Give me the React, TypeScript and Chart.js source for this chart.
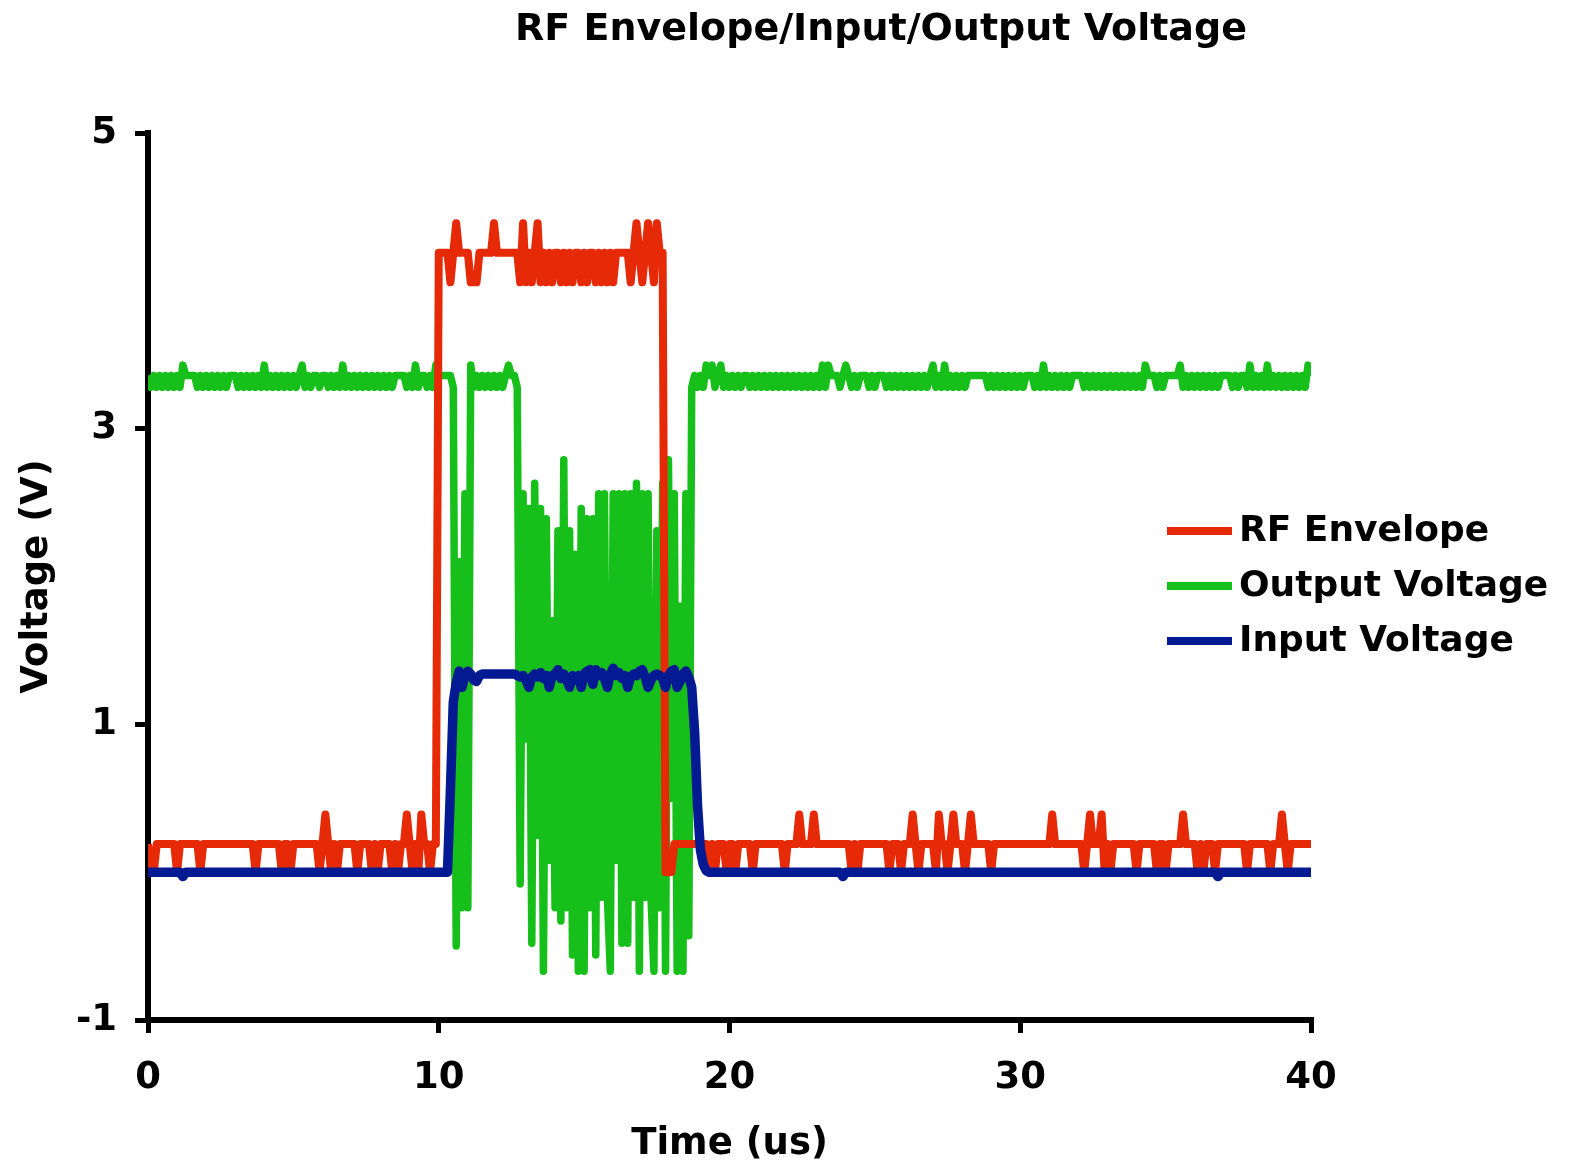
import React, { useEffect, useRef } from 'react';
import { Chart, registerables } from 'chart.js';

Chart.register(...registerables);

const CHART_TITLE = 'RF Envelope/Input/Output Voltage';
const X_TITLE = 'Time (us)';
const Y_TITLE = 'Voltage (V)';
const X_TICKS = [0, 10, 20, 30, 40];
const Y_TICKS = [-1, 1, 3, 5];
const SERIES_NAMES = ['RF Envelope', 'Output Voltage', 'Input Voltage'];
const SERIES_COLORS = ['#E62A08', '#17BF1A', '#041A92'];

// oscilloscope sample clock: one sample every 0.1 us from 0 to 40 us
const timeUs = Array.from({ length: 401 }, (_, i) => i / 10);

// RF Envelope (V), one row per microsecond
const rfEnvelope = [
  0.19, 0, 0, 0.19, 0.19, 0.19, 0.19, 0.19, 0.19, 0.19,
  0, 0.19, 0.19, 0.19, 0.19, 0.19, 0.19, 0.19, 0, 0.19,
  0.19, 0.19, 0.19, 0.19, 0.19, 0.19, 0.19, 0.19, 0.19, 0.19,
  0.19, 0.19, 0.19, 0.19, 0.19, 0.19, 0.19, 0, 0.19, 0.19,
  0.19, 0.19, 0.19, 0.19, 0.19, 0.19, 0, 0.19, 0.19, 0,
  0.19, 0.19, 0.19, 0.19, 0.19, 0.19, 0.19, 0.19, 0.19, 0,
  0.19, 0.39, 0.19, 0, 0.19, 0, 0.19, 0.19, 0.19, 0.19,
  0.19, 0.19, 0, 0.19, 0.19, 0.19, 0.19, 0, 0.19, 0,
  0.19, 0.19, 0.19, 0.19, 0, 0.19, 0, 0.19, 0.19, 0.39,
  0.19, 0, 0.19, 0, 0.39, 0.19, 0.19, 0, 0.19, 0.19,
  4.19, 4.19, 4.19, 4.19, 3.99, 4.19, 4.39, 4.19, 4.19, 4.19,
  4.19, 3.99, 3.99, 3.99, 4.19, 4.19, 4.19, 4.19, 4.19, 4.39,
  4.19, 4.19, 4.19, 4.19, 4.19, 4.19, 4.19, 4.19, 3.99, 4.39,
  3.99, 4.19, 3.99, 4.19, 4.39, 3.99, 4.19, 3.99, 4.19, 3.99,
  4.19, 4.19, 3.99, 4.19, 3.99, 4.19, 3.99, 4.19, 4.19, 3.99,
  4.19, 3.99, 4.19, 4.19, 3.99, 4.19, 3.99, 4.19, 3.99, 4.19,
  3.99, 4.19, 4.19, 4.19, 4.19, 4.19, 3.99, 4.19, 4.39, 4.19,
  3.99, 4.19, 4.39, 4.19, 3.99, 4.39, 4.19, 4.19, 0, 0,
  0, 0.19, 0.19, 0.19, 0.19, 0.19, 0.19, 0.19, 0.19, 0.19,
  0.19, 0.19, 0.19, 0, 0.19, 0, 0.19, 0.19, 0.19, 0,
  0.19, 0.19, 0, 0.19, 0.19, 0.19, 0.19, 0.19, 0, 0.19,
  0.19, 0.19, 0.19, 0.19, 0.19, 0.19, 0.19, 0.19, 0.19, 0,
  0.19, 0.19, 0.19, 0.19, 0.39, 0.19, 0.19, 0.19, 0.19, 0.39,
  0.19, 0.19, 0.19, 0.19, 0.19, 0.19, 0.19, 0.19, 0.19, 0.19,
  0.19, 0.19, 0, 0.19, 0, 0.19, 0.19, 0.19, 0.19, 0.19,
  0.19, 0.19, 0.19, 0.19, 0.19, 0, 0.19, 0.19, 0.19, 0,
  0.19, 0.19, 0.19, 0.39, 0.19, 0, 0.19, 0.19, 0.19, 0.19,
  0.19, 0, 0.39, 0.19, 0.19, 0, 0.19, 0.39, 0.19, 0.19,
  0.19, 0, 0.19, 0.39, 0.19, 0.19, 0.19, 0.19, 0.19, 0.19,
  0, 0.19, 0.19, 0.19, 0.19, 0.19, 0.19, 0.19, 0.19, 0.19,
  0.19, 0.19, 0.19, 0.19, 0.19, 0.19, 0.19, 0.19, 0.19, 0.19,
  0.19, 0.39, 0.19, 0.19, 0.19, 0.19, 0.19, 0.19, 0.19, 0.19,
  0.19, 0.19, 0, 0.19, 0.39, 0.19, 0.19, 0.19, 0.39, 0,
  0.19, 0, 0.19, 0.19, 0.19, 0.19, 0.19, 0.19, 0.19, 0.19,
  0, 0.19, 0.19, 0.19, 0.19, 0.19, 0.19, 0, 0.19, 0.19,
  0, 0.19, 0.19, 0.19, 0.19, 0.19, 0.39, 0.19, 0.19, 0.19,
  0.19, 0, 0.19, 0, 0.19, 0.19, 0.19, 0, 0.19, 0.19,
  0.19, 0.19, 0.19, 0.19, 0.19, 0.19, 0.19, 0.19, 0, 0.19,
  0.19, 0.19, 0.19, 0.19, 0.19, 0.19, 0, 0.19, 0.19, 0.19,
  0.39, 0.19, 0, 0.19, 0.19, 0.19, 0.19, 0.19, 0.19, 0.19,
  0.19,
];

// Output Voltage (V), one row per microsecond
const outputVoltage = [
  3.36, 3.28, 3.36, 3.28, 3.36, 3.28, 3.36, 3.28, 3.36, 3.28,
  3.36, 3.28, 3.43, 3.36, 3.36, 3.36, 3.36, 3.28, 3.36, 3.28,
  3.36, 3.28, 3.36, 3.28, 3.36, 3.28, 3.36, 3.28, 3.36, 3.36,
  3.36, 3.28, 3.36, 3.28, 3.36, 3.28, 3.36, 3.28, 3.36, 3.28,
  3.43, 3.28, 3.36, 3.28, 3.36, 3.28, 3.36, 3.28, 3.36, 3.28,
  3.36, 3.28, 3.36, 3.43, 3.28, 3.36, 3.28, 3.36, 3.36, 3.28,
  3.36, 3.36, 3.28, 3.36, 3.28, 3.36, 3.28, 3.43, 3.28, 3.36,
  3.28, 3.36, 3.28, 3.36, 3.28, 3.36, 3.28, 3.36, 3.28, 3.36,
  3.28, 3.36, 3.28, 3.36, 3.28, 3.36, 3.36, 3.36, 3.36, 3.28,
  3.36, 3.28, 3.43, 3.28, 3.36, 3.36, 3.28, 3.36, 3.28, 3.43,
  3.36, 3.36, 3.36, 3.36, 3.36, 3.28, -0.5, 2.1, -0.24, 2.56,
  -0.24, 3.43, 3.28, 3.36, 3.28, 3.36, 3.28, 3.36, 3.28, 3.36,
  3.28, 3.36, 3.28, 3.36, 3.43, 3.36, 3.36, 3.28, -0.08, 2.56,
  0.9, 2.46, -0.48, 2.63, 0.25, 2.46, -0.67, 2.39, 0.08, 1.7,
  -0.24, 2.31, -0.33, 2.79, -0.24, 2.31, -0.56, 2.15, -0.67, 2.46,
  -0.67, 2.39, -0.24, 2.39, -0.56, 2.56, -0.17, 2.56, -0.17, -0.67,
  2.56, 0.08, 2.56, -0.48, 2.56, -0.48, 2.56, -0.17, 2.63, -0.67,
  2.56, -0.17, 2.56, -0.17, -0.67, 2.31, -0.24, 2.63, -0.67, 2.79,
  0.5, 2.56, -0.67, 1.8, -0.67, 2.56, -0.43, 3.28, 3.36, 3.28,
  3.36, 3.28, 3.43, 3.36, 3.43, 3.28, 3.36, 3.43, 3.28, 3.36,
  3.28, 3.36, 3.28, 3.36, 3.28, 3.36, 3.36, 3.28, 3.36, 3.28,
  3.36, 3.28, 3.36, 3.28, 3.36, 3.28, 3.36, 3.28, 3.36, 3.28,
  3.36, 3.28, 3.36, 3.28, 3.36, 3.28, 3.36, 3.28, 3.36, 3.28,
  3.36, 3.28, 3.43, 3.28, 3.43, 3.36, 3.36, 3.36, 3.28, 3.36,
  3.43, 3.36, 3.28, 3.36, 3.28, 3.36, 3.36, 3.36, 3.28, 3.36,
  3.28, 3.36, 3.36, 3.36, 3.28, 3.36, 3.28, 3.36, 3.28, 3.36,
  3.28, 3.36, 3.28, 3.36, 3.28, 3.36, 3.28, 3.36, 3.28, 3.36,
  3.43, 3.28, 3.36, 3.28, 3.43, 3.28, 3.36, 3.28, 3.36, 3.28,
  3.36, 3.28, 3.36, 3.36, 3.36, 3.36, 3.36, 3.36, 3.36, 3.28,
  3.36, 3.28, 3.36, 3.28, 3.36, 3.28, 3.36, 3.28, 3.36, 3.28,
  3.36, 3.28, 3.36, 3.36, 3.36, 3.28, 3.36, 3.28, 3.43, 3.28,
  3.36, 3.28, 3.36, 3.28, 3.36, 3.28, 3.36, 3.28, 3.36, 3.36,
  3.36, 3.36, 3.28, 3.36, 3.28, 3.36, 3.28, 3.36, 3.28, 3.36,
  3.28, 3.36, 3.28, 3.36, 3.28, 3.36, 3.28, 3.36, 3.28, 3.36,
  3.28, 3.36, 3.28, 3.43, 3.36, 3.36, 3.36, 3.28, 3.36, 3.28,
  3.36, 3.36, 3.36, 3.36, 3.36, 3.43, 3.28, 3.36, 3.28, 3.36,
  3.28, 3.36, 3.28, 3.36, 3.28, 3.36, 3.28, 3.36, 3.28, 3.36,
  3.36, 3.36, 3.36, 3.28, 3.36, 3.28, 3.36, 3.36, 3.28, 3.43,
  3.28, 3.36, 3.28, 3.36, 3.28, 3.43, 3.28, 3.36, 3.28, 3.36,
  3.28, 3.36, 3.28, 3.36, 3.28, 3.36, 3.28, 3.36, 3.28, 3.43,
  3.36,
];

// Input Voltage (V), one row per microsecond
const inputVoltage = [
  0, 0, 0, 0, 0, 0, 0, 0, 0, 0,
  0, 0, -0.03, 0, 0, 0, 0, 0, 0, 0,
  0, 0, 0, 0, 0, 0, 0, 0, 0, 0,
  0, 0, 0, 0, 0, 0, 0, 0, 0, 0,
  0, 0, 0, 0, 0, 0, 0, 0, 0, 0,
  0, 0, 0, 0, 0, 0, 0, 0, 0, 0,
  0, 0, 0, 0, 0, 0, 0, 0, 0, 0,
  0, 0, 0, 0, 0, 0, 0, 0, 0, 0,
  0, 0, 0, 0, 0, 0, 0, 0, 0, 0,
  0, 0, 0, 0, 0, 0, 0, 0, 0, 0,
  0, 0, 0, 0, 0.55, 1.15, 1.28, 1.36, 1.25, 1.33,
  1.36, 1.34, 1.3, 1.29, 1.33, 1.34, 1.34, 1.34, 1.34, 1.34,
  1.34, 1.34, 1.34, 1.34, 1.34, 1.34, 1.34, 1.33, 1.32, 1.33,
  1.3, 1.25, 1.32, 1.34, 1.32, 1.35, 1.31, 1.33, 1.25, 1.33,
  1.34, 1.37, 1.31, 1.34, 1.3, 1.25, 1.33, 1.3, 1.33, 1.25,
  1.34, 1.36, 1.37, 1.27, 1.37, 1.33, 1.35, 1.31, 1.25, 1.34,
  1.38, 1.33, 1.35, 1.31, 1.33, 1.25, 1.32, 1.34, 1.33, 1.36,
  1.37, 1.32, 1.25, 1.3, 1.33, 1.34, 1.33, 1.31, 1.25, 1.33,
  1.36, 1.37, 1.25, 1.29, 1.34, 1.36, 1.32, 1.25, 0.95, 0.45,
  0.15, 0.05, 0.01, 0, 0, 0, 0, 0, 0, 0,
  0, 0, 0, 0, 0, 0, 0, 0, 0, 0,
  0, 0, 0, 0, 0, 0, 0, 0, 0, 0,
  0, 0, 0, 0, 0, 0, 0, 0, 0, 0,
  0, 0, 0, 0, 0, 0, 0, 0, 0, -0.03,
  0, 0, 0, 0, 0, 0, 0, 0, 0, 0,
  0, 0, 0, 0, 0, 0, 0, 0, 0, 0,
  0, 0, 0, 0, 0, 0, 0, 0, 0, 0,
  0, 0, 0, 0, 0, 0, 0, 0, 0, 0,
  0, 0, 0, 0, 0, 0, 0, 0, 0, 0,
  0, 0, 0, 0, 0, 0, 0, 0, 0, 0,
  0, 0, 0, 0, 0, 0, 0, 0, 0, 0,
  0, 0, 0, 0, 0, 0, 0, 0, 0, 0,
  0, 0, 0, 0, 0, 0, 0, 0, 0, 0,
  0, 0, 0, 0, 0, 0, 0, 0, 0, 0,
  0, 0, 0, 0, 0, 0, 0, 0, 0, 0,
  0, 0, 0, 0, 0, 0, 0, 0, 0, 0,
  0, 0, 0, 0, 0, 0, 0, 0, -0.03, 0,
  0, 0, 0, 0, 0, 0, 0, 0, 0, 0,
  0, 0, 0, 0, 0, 0, 0, 0, 0, 0,
  0, 0, 0, 0, 0, 0, 0, 0, 0, 0,
  0,
];

const SERIES_VALUES = [rfEnvelope, outputVoltage, inputVoltage];
const SERIES_WIDTHS = [8, 7.5, 9.5];
const SERIES_ORDER = [1, 2, 0]; // blue on top, green at the bottom

const FONT_FAMILY = '"DejaVu Sans", Verdana, sans-serif';

const textPlugin = {
  id: 'titleAndLegend',
  afterDraw(chart: any) {
    const ctx = chart.ctx as CanvasRenderingContext2D;
    ctx.save();
    ctx.fillStyle = '#000';
    ctx.textAlign = 'center';
    ctx.textBaseline = 'middle';
    ctx.font = `bold 38px ${FONT_FAMILY}`;
    ctx.fillText(CHART_TITLE, 881, 30);

    ctx.font = `bold 36px ${FONT_FAMILY}`;
    ctx.textAlign = 'left';
    chart.data.datasets.forEach((ds: any, i: number) => {
      const y = 531 + i * 55;
      ctx.strokeStyle = ds.borderColor;
      ctx.lineWidth = 8;
      ctx.lineCap = 'butt';
      ctx.beginPath();
      ctx.moveTo(1167, y);
      ctx.lineTo(1232, y);
      ctx.stroke();
      ctx.fillStyle = '#000';
      ctx.fillText(ds.label, 1239, y + 1);
    });
    ctx.restore();
  },
};

export default function App() {
  const canvasRef = useRef<HTMLCanvasElement>(null);

  useEffect(() => {
    const canvas = canvasRef.current;
    if (!canvas) return;
    Chart.defaults.font.family = FONT_FAMILY;

    const datasets = SERIES_NAMES.map((name, i) => ({
      label: name,
      data: timeUs.map((t, k) => ({ x: t, y: SERIES_VALUES[i][k] })),
      borderColor: SERIES_COLORS[i],
      backgroundColor: SERIES_COLORS[i],
      borderWidth: SERIES_WIDTHS[i],
      pointRadius: 0,
      tension: 0,
      fill: false,
      borderJoinStyle: 'round' as const,
      borderCapStyle: 'butt' as const,
      order: SERIES_ORDER[i],
    }));

    const axisGrid = {
      drawOnChartArea: false,
      drawTicks: true,
      tickLength: 13,
      tickWidth: 5,
      tickColor: '#000',
      lineWidth: 5,
      color: '#000',
    };

    const chart = new Chart(canvas, {
      type: 'line',
      data: { datasets },
      plugins: [textPlugin],
      options: {
        responsive: false,
        animation: false,
        events: [],
        layout: { padding: { top: 133, right: 276, bottom: 0, left: 0 } },
        plugins: {
          legend: { display: false },
          title: { display: false },
          tooltip: { enabled: false },
        },
        scales: {
          x: {
            type: 'linear',
            min: X_TICKS[0],
            max: X_TICKS[X_TICKS.length - 1],
            ticks: {
              stepSize: X_TICKS[1] - X_TICKS[0],
              color: '#000',
              font: { size: 37, weight: 'bold' },
              padding: 23,
              maxRotation: 0,
            },
            grid: axisGrid,
            border: { display: true, color: '#000', width: 6 },
            title: {
              display: true,
              text: X_TITLE,
              color: '#000',
              font: { size: 37, weight: 'bold', lineHeight: 1.05 },
              padding: { top: 0, bottom: 0 },
            },
            afterFit: (scale: any) => {
              scale.height = 144;
            },
          },
          y: {
            type: 'linear',
            min: Y_TICKS[0],
            max: Y_TICKS[Y_TICKS.length - 1],
            ticks: {
              stepSize: Y_TICKS[1] - Y_TICKS[0],
              color: '#000',
              font: { size: 37, weight: 'bold' },
              padding: 18,
            },
            grid: axisGrid,
            border: { display: true, color: '#000', width: 6 },
            title: {
              display: true,
              text: Y_TITLE,
              color: '#000',
              font: { size: 37, weight: 'bold' },
              padding: { top: 15, bottom: 0 },
            },
            afterFit: (scale: any) => {
              scale.width = 148;
            },
          },
        },
      } as any,
    });

    return () => chart.destroy();
  }, []);

  return (
    <div style={{ position: 'absolute', left: 0, top: 0, width: 1587, height: 1164, background: '#fff' }}>
      <canvas ref={canvasRef} width={1587} height={1164} style={{ display: 'block' }} />
    </div>
  );
}
